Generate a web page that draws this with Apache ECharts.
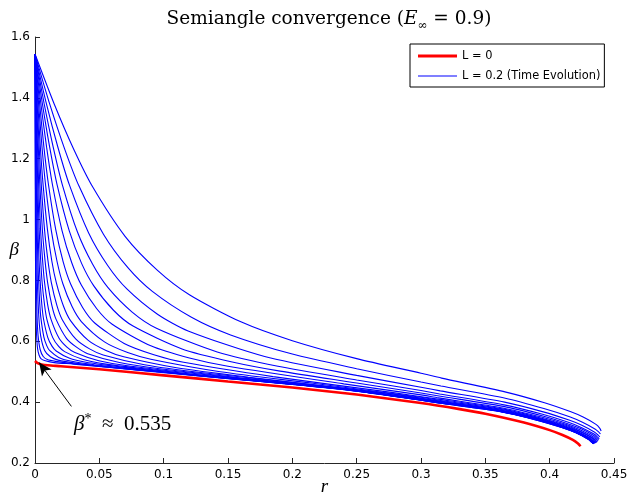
<!DOCTYPE html>
<html>
<head>
<meta charset="utf-8">
<script src="https://cdn.jsdelivr.net/npm/echarts@6/dist/echarts.min.js"></script>
<style>html,body{margin:0;padding:0;background:#fff}#c{width:630px;height:495px}</style>
</head>
<body>
<div id="c"></div>
<script>
// ---- axis ranges / ticks ----
const xMin = 0, xMax = 0.45, xStep = 0.05;
const yMin = 0.2, yMax = 1.6, yStep = 0.2;

// ---- legend names ----
const redName = 'L = 0';
const blueName = 'L = 0.2 (Time Evolution)';

// ---- L = 0 curve [r, beta] ----
const redCurve = [[0,0.535],[0.002,0.528],[0.005,0.524],[0.01,0.521],[0.02,0.518],[0.05,0.508],[0.1,0.488],[0.15,0.468],[0.2,0.448],[0.25,0.425],[0.3,0.397],[0.33,0.377],[0.35,0.362],[0.38,0.333],[0.4,0.308],[0.41,0.292],[0.418,0.276],[0.422,0.264],[0.424,0.255]];

// ---- L = 0.2 time evolution curves [r, beta] ----
const b00 = [[0,1.544],[0.015,1.379],[0.03,1.232],[0.045,1.106],[0.07,0.945],[0.095,0.834],[0.12,0.753],[0.16,0.664],[0.2,0.602],[0.25,0.543],[0.3,0.495],[0.316,0.479],[0.366,0.433],[0.396,0.398],[0.416,0.369],[0.426,0.351],[0.436,0.327],[0.439,0.314],[0.44,0.305]];
const b01 = [[0,1.544],[0.0114,1.380],[0.0228,1.235],[0.0342,1.110],[0.0532,0.952],[0.0722,0.842],[0.0912,0.764],[0.1216,0.679],[0.152,0.621],[0.2,0.558],[0.25,0.510],[0.3,0.466],[0.3155,0.453],[0.3655,0.413],[0.3955,0.379],[0.4155,0.352],[0.4255,0.334],[0.4355,0.311],[0.4385,0.300],[0.4395,0.296]];
const b02 = [[0,1.544],[0.0089,1.380],[0.0179,1.236],[0.0268,1.113],[0.0417,0.956],[0.0565,0.849],[0.0714,0.772],[0.0952,0.689],[0.119,0.634],[0.1785,0.550],[0.25,0.488],[0.3,0.449],[0.315,0.437],[0.365,0.400],[0.395,0.368],[0.415,0.341],[0.425,0.324],[0.435,0.301],[0.438,0.290],[0.439,0.286]];
const b03 = [[0,1.544],[0.0071,1.381],[0.0142,1.237],[0.0212,1.115],[0.033,0.959],[0.0448,0.853],[0.0566,0.777],[0.0755,0.696],[0.0944,0.643],[0.1416,0.565],[0.1888,0.518],[0.25,0.473],[0.3,0.438],[0.3145,0.427],[0.3645,0.391],[0.3945,0.360],[0.4145,0.334],[0.4245,0.317],[0.4345,0.295],[0.4375,0.284],[0.4385,0.279]];
const b04 = [[0,1.544],[0.0057,1.382],[0.0114,1.238],[0.0171,1.116],[0.0267,0.962],[0.0362,0.856],[0.0457,0.782],[0.061,0.702],[0.0762,0.650],[0.1143,0.575],[0.1524,0.533],[0.1905,0.502],[0.25,0.463],[0.3,0.430],[0.314,0.420],[0.364,0.386],[0.394,0.355],[0.414,0.329],[0.424,0.313],[0.434,0.291],[0.437,0.280],[0.438,0.275]];
const b05 = [[0,1.544],[0.0045,1.383],[0.009,1.238],[0.0135,1.116],[0.021,0.964],[0.0285,0.859],[0.036,0.785],[0.048,0.707],[0.06,0.656],[0.09,0.585],[0.12,0.545],[0.15,0.518],[0.24,0.460],[0.3,0.424],[0.3135,0.414],[0.3635,0.381],[0.3935,0.351],[0.4135,0.326],[0.4235,0.309],[0.4335,0.287],[0.4365,0.276],[0.4375,0.272]];
const b06 = [[0,1.544],[0.0035,1.385],[0.0069,1.239],[0.0104,1.117],[0.0162,0.965],[0.0219,0.861],[0.0277,0.788],[0.037,0.711],[0.0462,0.661],[0.0693,0.593],[0.0924,0.556],[0.1155,0.531],[0.185,0.484],[0.277,0.432],[0.313,0.410],[0.363,0.378],[0.393,0.348],[0.413,0.323],[0.423,0.306],[0.433,0.284],[0.436,0.273],[0.437,0.269]];
const b07 = [[0,1.544],[0.0027,1.386],[0.0054,1.240],[0.0081,1.118],[0.0126,0.966],[0.0171,0.863],[0.0216,0.790],[0.0288,0.714],[0.036,0.665],[0.054,0.598],[0.072,0.563],[0.09,0.541],[0.144,0.500],[0.216,0.462],[0.3,0.416],[0.3125,0.407],[0.3625,0.376],[0.3925,0.346],[0.4125,0.321],[0.4225,0.305],[0.4325,0.283],[0.4355,0.272],[0.4365,0.268]];
const b08 = [[0,1.544],[0.0021,1.387],[0.0041,1.242],[0.0062,1.119],[0.0097,0.966],[0.0131,0.863],[0.0166,0.792],[0.0221,0.716],[0.0276,0.668],[0.0414,0.603],[0.0552,0.570],[0.069,0.549],[0.11,0.513],[0.166,0.482],[0.276,0.428],[0.312,0.405],[0.362,0.374],[0.392,0.345],[0.412,0.319],[0.422,0.303],[0.432,0.281],[0.435,0.270],[0.436,0.266]];
const b09 = [[0,1.544],[0.0016,1.388],[0.0032,1.243],[0.0048,1.119],[0.0074,0.967],[0.0101,0.864],[0.0127,0.793],[0.017,0.718],[0.0212,0.671],[0.0318,0.607],[0.0424,0.575],[0.053,0.555],[0.085,0.523],[0.127,0.498],[0.212,0.459],[0.3,0.412],[0.3115,0.404],[0.3615,0.373],[0.3915,0.344],[0.4115,0.319],[0.4215,0.302],[0.4315,0.280],[0.4345,0.269],[0.4355,0.265]];
const b10 = [[0,1.544],[0.0012,1.390],[0.0025,1.244],[0.0037,1.121],[0.0057,0.968],[0.0078,0.865],[0.0098,0.793],[0.0131,0.718],[0.0164,0.672],[0.0246,0.609],[0.0328,0.579],[0.041,0.559],[0.0656,0.530],[0.0984,0.509],[0.164,0.478],[0.25,0.439],[0.311,0.403],[0.361,0.372],[0.391,0.343],[0.411,0.318],[0.421,0.302],[0.431,0.280],[0.434,0.269],[0.435,0.265]];
const b11 = [[0,1.544],[0.0009,1.391],[0.0019,1.245],[0.0028,1.123],[0.0043,0.969],[0.0059,0.866],[0.0074,0.794],[0.0099,0.719],[0.0124,0.673],[0.0186,0.611],[0.0248,0.581],[0.031,0.563],[0.0496,0.536],[0.0744,0.518],[0.124,0.494],[0.2,0.461],[0.25,0.438],[0.311,0.402],[0.361,0.372],[0.391,0.343],[0.411,0.318],[0.421,0.302],[0.431,0.280],[0.434,0.269],[0.435,0.265]];
const b12 = [[0,1.544],[0.0007,1.392],[0.0014,1.247],[0.0021,1.124],[0.0032,0.971],[0.0044,0.867],[0.0055,0.795],[0.0074,0.720],[0.0092,0.673],[0.0138,0.612],[0.0184,0.583],[0.023,0.566],[0.0368,0.541],[0.0552,0.525],[0.092,0.506],[0.15,0.480],[0.2,0.460],[0.25,0.438],[0.3105,0.402],[0.3605,0.372],[0.3905,0.343],[0.4105,0.318],[0.4205,0.302],[0.4305,0.280],[0.4335,0.269],[0.4345,0.265]];
const b13 = [[0,1.544],[0.0005,1.392],[0.001,1.249],[0.0015,1.126],[0.0023,0.973],[0.0031,0.869],[0.004,0.797],[0.0053,0.721],[0.0066,0.674],[0.0099,0.613],[0.0132,0.584],[0.0165,0.568],[0.0264,0.545],[0.0396,0.531],[0.066,0.516],[0.1,0.500],[0.15,0.479],[0.2,0.459],[0.25,0.437],[0.3105,0.401],[0.3605,0.371],[0.3905,0.342],[0.4105,0.317],[0.4205,0.301],[0.4305,0.279],[0.4335,0.268],[0.4345,0.264]];
const b14 = [[0,1.544],[0.00035,1.393],[0.0007,1.250],[0.001,1.128],[0.0016,0.974],[0.0022,0.871],[0.0028,0.799],[0.0037,0.723],[0.0046,0.676],[0.0069,0.614],[0.0092,0.585],[0.0115,0.569],[0.0184,0.547],[0.0276,0.535],[0.046,0.523],[0.1,0.499],[0.15,0.479],[0.2,0.459],[0.25,0.437],[0.31,0.401],[0.36,0.371],[0.39,0.342],[0.41,0.317],[0.42,0.301],[0.43,0.279],[0.433,0.268],[0.434,0.264]];
const b15 = [[0,1.544],[0.00045,1.250],[0.00105,0.976],[0.0018,0.801],[0.003,0.678],[0.0045,0.616],[0.0075,0.570],[0.012,0.549],[0.018,0.538],[0.03,0.529],[0.06,0.514],[0.1,0.498],[0.15,0.478],[0.2,0.459],[0.25,0.437],[0.31,0.401],[0.36,0.371],[0.39,0.342],[0.41,0.317],[0.42,0.301],[0.43,0.279],[0.433,0.268],[0.434,0.264]];
const b16 = [[0,1.544],[0.00024,1.251],[0.00056,0.978],[0.00096,0.804],[0.0016,0.681],[0.0024,0.619],[0.004,0.573],[0.0064,0.550],[0.0096,0.540],[0.016,0.534],[0.03,0.526],[0.06,0.514],[0.1,0.498],[0.15,0.478],[0.2,0.458],[0.25,0.436],[0.31,0.400],[0.36,0.370],[0.39,0.341],[0.41,0.316],[0.42,0.300],[0.43,0.278],[0.433,0.267],[0.434,0.263]];
const b17 = [[0,1.544],[0.00012,1.252],[0.00028,0.979],[0.00048,0.805],[0.0008,0.684],[0.0012,0.623],[0.002,0.576],[0.0032,0.554],[0.0048,0.542],[0.008,0.536],[0.015,0.530],[0.03,0.525],[0.06,0.513],[0.1,0.497],[0.15,0.477],[0.2,0.458],[0.25,0.436],[0.31,0.400],[0.36,0.370],[0.39,0.341],[0.41,0.316],[0.42,0.300],[0.43,0.278],[0.433,0.267],[0.434,0.263]];

// ---- annotation ----
const arrowFrom = [0.0283, 0.386];
const arrowTo = [0.0032, 0.53];

const blueCurves = [b00,b01,b02,b03,b04,b05,b06,b07,b08,b09,b10,b11,b12,b13,b14,b15,b16,b17];

const chart = echarts.init(document.getElementById('c'), null, {renderer:'canvas'});

const serif = 'Liberation Serif';
const titleSerif = 'DejaVu Serif';
const sans = 'DejaVu Sans';
const axisColor = '#262626';

const series = [{
  name: redName,
  type: 'line',
  data: redCurve,
  symbol: 'none',
  showSymbol: false,
  smooth: 0.25,
  color: '#ff0000',
  lineStyle: {color:'#ff0000', width:2.6},
  z: 2,
  silent: true,
  markLine: {
    silent: true,
    symbol: ['none','arrow'],
    symbolSize: [9, 13],
    label: {show:false},
    lineStyle: {color:'#000', width:1, type:'solid'},
    data: [[{coord: arrowFrom, symbol:'none'}, {coord: arrowTo, symbol:'arrow'}]]
  }
}];
blueCurves.forEach(function(d){
  series.push({
    name: blueName,
    type: 'line',
    data: d,
    symbol: 'none',
    showSymbol: false,
    smooth: 0.25,
    color: '#0000ff',
    lineStyle: {color:'#0000ff', width:1.1},
    z: 3,
    silent: true
  });
});

chart.setOption({
  animation: false,
  backgroundColor: '#fff',
  title: {
    text: '{n|Semiangle convergence (}{i|E}{s|∞}{n| = 0.9)}',
    left: 324,
    textAlign: 'center',
    top: 1,
    textStyle: {
      fontWeight: 'normal',
      rich: {
        n: {fontFamily: titleSerif, fontSize: 18.5, fontWeight:'normal', color:'#000', lineHeight: 26},
        i: {fontFamily: titleSerif, fontSize: 18.5, fontWeight:'normal', fontStyle:'italic', color:'#000', lineHeight: 26},
        s: {fontFamily: titleSerif, fontSize: 12, fontWeight:'normal', color:'#000', verticalAlign:'bottom', lineHeight: 26}
      }
    }
  },
  legend: {
    data: [
      {name: redName, icon: 'path://M0,0M0,5.6L39,5.6L39,8.4L0,8.4ZM39,14'},
      {name: blueName, icon: 'path://M0,0M0,6.4L39,6.4L39,7.6L0,7.6ZM39,14'}
    ],
    orient: 'vertical',
    left: 410,
    top: 44,
    padding: [5, 4, 4, 8],
    itemWidth: 39,
    itemHeight: 14,
    itemGap: 6,
    borderColor: '#000',
    borderWidth: 1,
    backgroundColor: '#fff',
    textStyle: {fontFamily: sans, fontSize: 11.4, color:'#000'}
  },
  grid: {left: 35, right: 16, top: 37, bottom: 32, containLabel: false, outerBoundsMode: 'none'},
  xAxis: {
    type: 'value', min: xMin, max: xMax, interval: xStep,
    axisLine: {show:true, onZero:false, lineStyle:{color:axisColor, width:1}},
    axisTick: {show:true, inside:true, length:5, lineStyle:{color:axisColor}},
    axisLabel: {color:'#000', fontFamily:sans, fontSize:12, margin:6},
    splitLine: {show:false},
    name: 'r', nameLocation: 'middle', nameGap: 14, nameMoveOverlap: false,
    nameTextStyle: {fontFamily: serif, fontStyle:'italic', fontSize: 19, color:'#000'}
  },
  yAxis: {
    type: 'value', min: yMin, max: yMax, interval: yStep,
    axisLine: {show:true, onZero:false, lineStyle:{color:axisColor, width:1}},
    axisTick: {show:true, inside:true, length:5, lineStyle:{color:axisColor}},
    axisLabel: {color:'#000', fontFamily:sans, fontSize:12, margin:5},
    splitLine: {show:false},
    name: 'β', nameLocation: 'middle', nameGap: 16, nameRotate: 0, nameMoveOverlap: false,
    nameTextStyle: {fontFamily: serif, fontStyle:'italic', fontSize: 19, color:'#000'}
  },
  graphic: [{
    type: 'text',
    left: 74,
    top: 412,
    silent: true,
    style: {
      text: '{i|β}{s|*}{n|  ≈  0.535}',
      rich: {
        i: {fontFamily: serif, fontStyle:'italic', fontSize: 21, fill:'#000', lineHeight: 24},
        s: {fontFamily: serif, fontSize: 14, fill:'#000', verticalAlign:'top', lineHeight: 24},
        n: {fontFamily: serif, fontSize: 21, fill:'#000', lineHeight: 24}
      }
    }
  }],
  series: series
});
</script>
</body>
</html>
